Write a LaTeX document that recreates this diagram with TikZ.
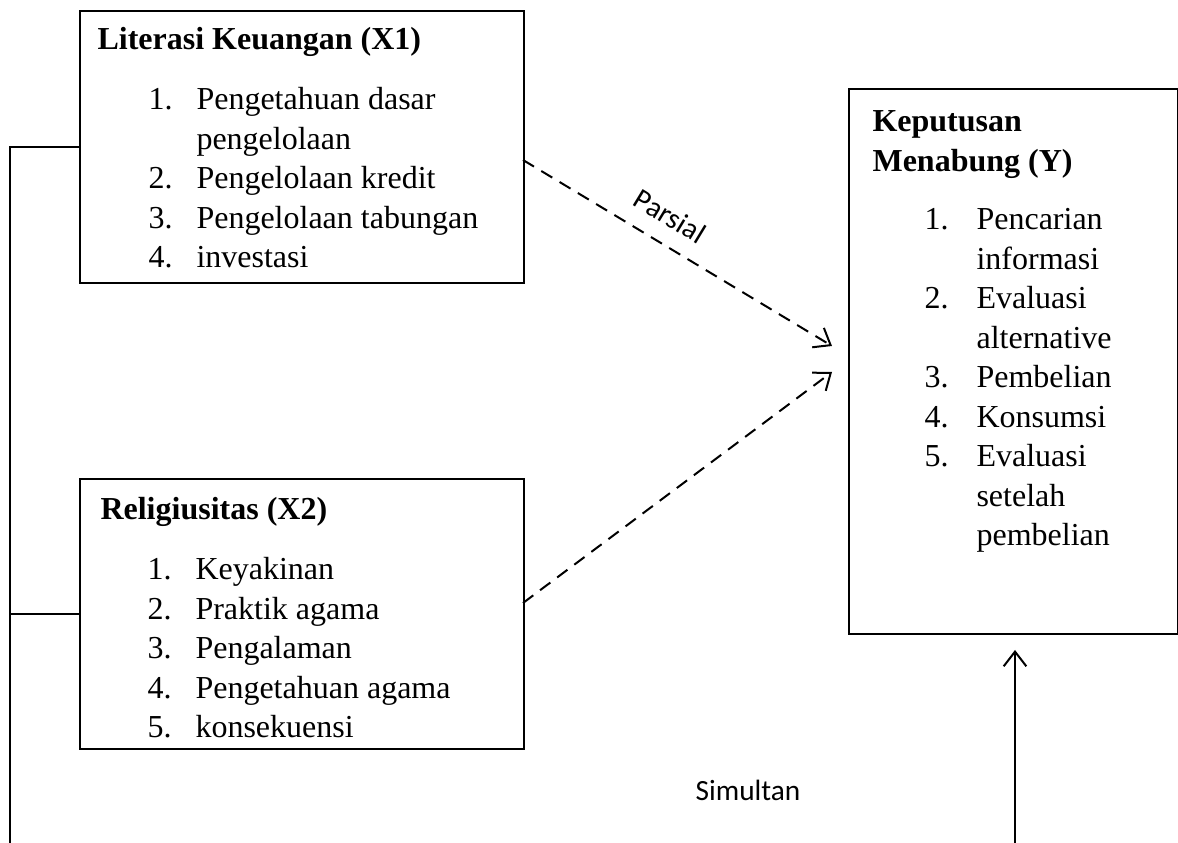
\documentclass[tikz,border=0pt]{standalone}
\usepackage{fontspec}
\setmainfont{Liberation Serif}
\newfontfamily\calibri{Carlito}
\usetikzlibrary{arrows.meta}

\begin{document}
\begin{tikzpicture}[x=0.375pt,y=-0.375pt,
    varbox/.style={draw,line width=0.75pt,inner sep=0pt,anchor=north west},
    boxtext/.style={inner sep=0pt,anchor=base west,font=\fontsize{12}{14.8}\selectfont},
    link/.style={line width=0.75pt},
    openhead/.style={-{Straight Barb[length=5.5pt,width=8.5pt,line width=0.75pt]}},
    lbl/.style={inner sep=0pt,font=\calibri\fontsize{11}{13}\selectfont}]
\useasboundingbox (0,0) rectangle (1178,843);
% boxes
\node[varbox,minimum width=166.5pt,minimum height=102pt] (x1) at (79,10) {};
\node[varbox,minimum width=166.5pt,minimum height=101.25pt] (x2) at (79,478) {};
\node[varbox,minimum width=123.2pt,minimum height=204.4pt] (y) at (848,88) {};
% texts
\node[boxtext] (x1title) at (97,50) {\textbf{Literasi Keuangan (X1)}};
\node[boxtext] (x1list) at (148,110) {\begin{tabular}[t]{@{}p{18pt}@{}l@{}}
  1. & Pengetahuan dasar\\
     & pengelolaan\\
  2. & Pengelolaan kredit\\
  3. & Pengelolaan tabungan\\
  4. & investasi
\end{tabular}};
\node[boxtext] (x2title) at (100,520) {\textbf{Religiusitas (X2)}};
\node[boxtext] (x2list) at (147,580) {\begin{tabular}[t]{@{}p{18pt}@{}l@{}}
  1. & Keyakinan\\
  2. & Praktik agama\\
  3. & Pengalaman\\
  4. & Pengetahuan agama\\
  5. & konsekuensi
\end{tabular}};
\node[boxtext] (ytitle) at (872,132) {\bfseries\begin{tabular}[t]{@{}l@{}}
  Keputusan\\
  Menabung (Y)
\end{tabular}};
\node[boxtext] (ylist) at (924,230) {\begin{tabular}[t]{@{}p{19.5pt}@{}l@{}}
  1. & Pencarian\\
     & informasi\\
  2. & Evaluasi\\
     & alternative\\
  3. & Pembelian\\
  4. & Konsumsi\\
  5. & Evaluasi\\
     & setelah\\
     & pembelian
\end{tabular}};
% partial arrows
\coordinate (x1out) at (523,160);
\coordinate (x2out) at (523,603);
\coordinate (ytip1) at (832,346);
\coordinate (ytip2) at (832,372);
\draw[link,openhead,dash pattern=on 4.8pt off 3.2pt] (x1out) -- (ytip1);
\draw[link,openhead,dash pattern=on 4.8pt off 3.2pt] (x2out) -- (ytip2);
\node[lbl,rotate=-31.3] (parsial) at (670,216) {Parsial};
% simultaneous
\coordinate (lbot) at (10,843);
\coordinate (rbot) at (1015,843);
\coordinate (ytip3) at (1015,650);
\draw[link] (x1.west) -| (lbot);
\draw[link] (x2.west) -- (x2.west -| lbot);
\draw[link,openhead] (rbot) -- (ytip3);
\node[lbl] (simultan) at (748,790) {Simultan};
\end{tikzpicture}
\end{document}
